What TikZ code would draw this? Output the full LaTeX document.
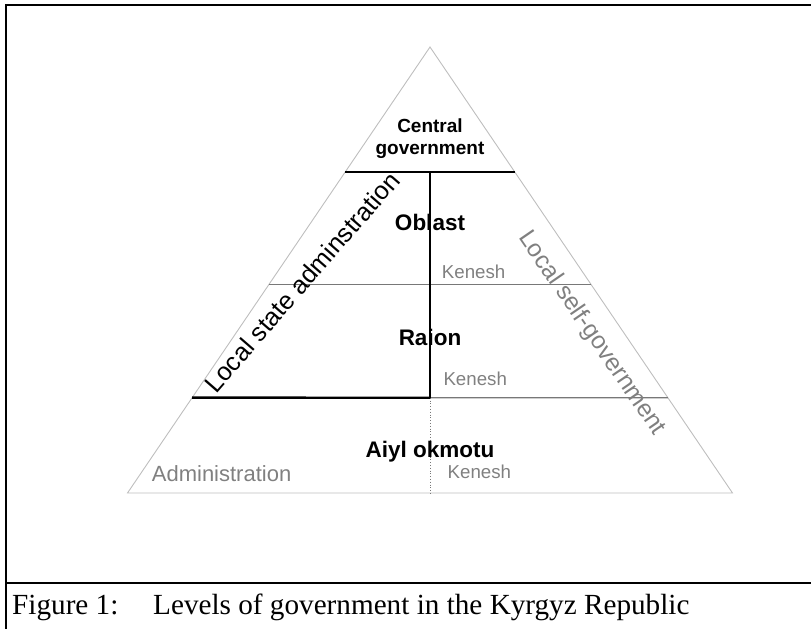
\documentclass[tikz,border=0pt]{standalone}
\usepackage{fontspec}
\setmainfont{Liberation Sans}
\newfontfamily\capfont{Liberation Serif}
\usetikzlibrary{calc}
\definecolor{txtgray}{RGB}{128,128,128}
\definecolor{edgegray}{RGB}{190,190,190}
\definecolor{linegray}{RGB}{120,120,120}
\tikzset{
  frameline/.style={line width=2.4pt, black},
  edgeline/.style={line width=0.9pt, edgegray},
  thickline/.style={line width=2.4pt, black},
  midline/.style={line width=1.3pt, linegray},
  dotline/.style={line width=0.8pt, linegray, dotted},
  boldlbl/.style={inner sep=0pt, font=\bfseries\fontsize{22.5}{26}\selectfont},
  keneshlbl/.style={inner sep=0pt, text=txtgray, font=\fontsize{18.7}{22}\selectfont, anchor=base west},
  caplbl/.style={inner sep=0pt, anchor=base west, font=\capfont\fontsize{29.2}{34}\selectfont},
}
\begin{document}
\begin{tikzpicture}[x=1pt,y=1pt]
\useasboundingbox (0,0) rectangle (811,-629);
% frame
\coordinate (ftr) at (811,-5);
\coordinate (ftl) at (6,-5);
\coordinate (fbl) at (6,-629);
\coordinate (cl) at (6,-583);
\coordinate (cr) at (811,-583);
\draw[frameline] (ftr) -- (ftl) -- (fbl);
\draw[frameline] (cl) -- (cr);
% triangle
\coordinate (A) at (430,-47);
\coordinate (BL) at (127.5,-493);
\coordinate (BR) at (732.5,-493);
\draw[edgeline] (A) -- (BL) -- (BR) -- cycle;
% level points
\coordinate (l1) at ($(A)!0.2796!(BL)$);
\coordinate (r1) at ($(A)!0.2796!(BR)$);
\coordinate (l2) at ($(A)!0.5325!(BL)$);
\coordinate (r2) at ($(A)!0.5325!(BR)$);
\coordinate (l3) at ($(A)!0.7863!(BL)$);
\coordinate (r3) at ($(A)!0.7863!(BR)$);
\coordinate (m1) at (430,-171.7);
\coordinate (m2) at (430,-284.5);
\coordinate (m3) at (430,-397.7);
\coordinate (m4) at (430,-493);
% lines
\draw[midline] (l2) -- (r2);
\draw[midline] (m3) -- (r3);
\draw[dotline] (m3) -- (m4);
\draw[thickline] (l1) -- (r1);
\draw[thickline, line width=2pt] (m1) -- (m3);
\draw[thickline] (l3) -- (m3);
% labels
\node[inner sep=0pt, align=center, font=\bfseries\fontsize{19}{22}\selectfont] (central) at (430,-139) {Central\\government};
\node[boldlbl, anchor=base] (oblast) at (430,-230) {Oblast};
\node[boldlbl, anchor=base] (raion) at (430,-345) {Raion};
\node[boldlbl, anchor=base] (aiyl) at (430,-457) {Aiyl okmotu};
\node[keneshlbl] (k1) at (441.7,-278.3) {Kenesh};
\node[keneshlbl] (k2) at (443.3,-385) {Kenesh};
\node[keneshlbl] (k3) at (447.5,-478.3) {Kenesh};
\node[inner sep=0pt, text=txtgray, anchor=base west, font=\fontsize{22}{26}\selectfont] (admin) at (151.7,-481.7) {Administration};
\node[inner sep=0pt, rotate=49, font=\fontsize{25.4}{30}\selectfont] (lsa) at (302,-282) {Local state adminstration};
\node[inner sep=0pt, rotate=-55.5, text=txtgray, font=\fontsize{24.5}{29}\selectfont] (lsg) at (591.7,-333.3) {Local self-government};
% caption
\node[caplbl] (fig) at (12,-614) {Figure 1:};
\node[caplbl] (captxt) at (153,-614) {Levels of government in the Kyrgyz Republic};
\end{tikzpicture}
\end{document}
